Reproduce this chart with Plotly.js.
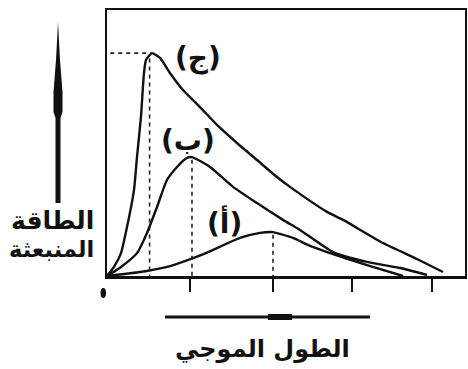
<!DOCTYPE html>
<html>
<head>
<meta charset="utf-8">
<script src="https://cdn.plot.ly/plotly-3.0.1.min.js"></script>
<style>
html,body{margin:0;padding:0;background:#fff;}
#chart{width:468px;height:369px;}
</style>
</head>
<body>
<div id="chart"></div>
<script>
// Series (x: wavelength units, y: emitted energy units)
const curveCx = [0,0.086,0.172,0.246,0.332,0.369,0.418,0.455,0.48,0.554,0.652,0.775,0.935,1.145,1.354,1.6,1.846,2.092,2.252,2.708,2.905,3.397,3.815,4.135];
const curveCy = [0,3.4,8.6,18.4,32.3,44.7,59.8,76.3,81.2,83.8,82.0,76.3,69.9,63.5,56.8,50.0,43.6,37.2,33.5,24.1,21.1,12.4,6.4,1.5];
const curveBx = [0,0.172,0.369,0.492,0.615,0.738,0.862,0.985,1.046,1.268,1.551,1.846,2.166,2.375,2.782,3.2,3.606,3.938];
const curveBy = [0,3.4,8.6,16.2,25.9,36.1,41.0,44.4,44.7,41.0,33.5,27.4,21.1,17.3,9.0,5.3,3.0,0.4];
const curveAx = [0,0.492,0.788,1.034,1.194,1.354,1.637,1.883,2.043,2.129,2.289,2.498,2.708,3.2,3.643];
const curveAy = [0,1.9,3.8,6.4,8.3,10.5,14.3,16.2,16.5,15.8,14.3,11.3,9.0,4.1,0];
const curveLabels = ['(أ)','(ب)','(ج)'];
const tickPositions = [1.02,2.04,3.02,4.0];
const yTitle = ['الطاقة','المنبعثة'];
const xTitle = 'الطول الموجي';

const W = 468, H = 369;
const M = {l:107, r:3, t:10, b:93};
const XR = [0, 4.406], YR = [0, 100];
// pixel -> paper helpers for decorative arrows
const pw = W - M.l - M.r, ph = H - M.t - M.b;
const px2paper = p => (p - M.l) / pw;
const py2paper = p => (H - M.b - p) / ph;

function peak(xs, ys){
  let i = 0;
  ys.forEach((v,k)=>{ if(v>ys[i]) i=k; });
  return {x: xs[i], y: ys[i]};
}
const pA = peak(curveAx, curveAy), pB = peak(curveBx, curveBy), pC = peak(curveCx, curveCy);

const lineStyle = {color:'#111', width:2.4, shape:'spline', smoothing:0.55};
const traces = [
  {x:curveCx, y:curveCy, mode:'lines', line:lineStyle, hoverinfo:'skip'},
  {x:curveBx, y:curveBy, mode:'lines', line:lineStyle, hoverinfo:'skip'},
  {x:curveAx, y:curveAy, mode:'lines', line:lineStyle, hoverinfo:'skip'}
];

const dash = {color:'#222', width:1.6, dash:'4px,4px'};
const shapes = [
  {type:'line', xref:'x', yref:'y', x0:0.04, x1:pC.x, y0:pC.y, y1:pC.y, line:dash},
  {type:'line', xref:'x', yref:'y', x0:pC.x-0.03, x1:pC.x-0.03, y0:pC.y-2, y1:0, line:dash},
  {type:'line', xref:'x', yref:'y', x0:pB.x, x1:pB.x, y0:pB.y-1, y1:0, line:dash},
  {type:'line', xref:'x', yref:'y', x0:pA.x, x1:pA.x, y0:pA.y-1, y1:0, line:dash},
  // vertical arrow (left)
  {type:'path', xref:'paper', yref:'paper', fillcolor:'#111', line:{width:0},
   path:'M '+px2paper(58)+' '+py2paper(22)+
        ' L '+px2paper(60)+' '+py2paper(60)+
        ' L '+px2paper(62.5)+' '+py2paper(92)+
        ' L '+px2paper(62.5)+' '+py2paper(112)+
        ' L '+px2paper(60.5)+' '+py2paper(118)+
        ' L '+px2paper(60.5)+' '+py2paper(203)+
        ' L '+px2paper(55.5)+' '+py2paper(203)+
        ' L '+px2paper(55.5)+' '+py2paper(118)+
        ' L '+px2paper(53.5)+' '+py2paper(112)+
        ' L '+px2paper(53.5)+' '+py2paper(92)+
        ' L '+px2paper(56)+' '+py2paper(60)+' Z'},
  // horizontal arrow (bottom)
  {type:'line', xref:'paper', yref:'paper', x0:px2paper(165), x1:px2paper(370), y0:py2paper(317), y1:py2paper(317), line:{color:'#111', width:3}},
  {type:'line', xref:'paper', yref:'paper', x0:px2paper(268), x1:px2paper(292), y0:py2paper(317), y1:py2paper(317), line:{color:'#111', width:6}},
  // small dot at origin
  {type:'circle', xref:'paper', yref:'paper', x0:px2paper(100.5), x1:px2paper(106), y0:py2paper(298), y1:py2paper(288), fillcolor:'#111', line:{width:0}}
];

const arFont = {family:'DejaVu Sans, Noto Sans, sans-serif', color:'#111'};
const annotations = [
  {x:1.12, y:82, xref:'x', yref:'y', text:'<b>'+curveLabels[2]+'</b>', showarrow:false, font:Object.assign({size:28}, arFont)},
  {x:0.995, y:51, xref:'x', yref:'y', text:'<b>'+curveLabels[1]+'</b>', showarrow:false, font:Object.assign({size:28}, arFont)},
  {x:1.45, y:20.3, xref:'x', yref:'y', text:'<b>'+curveLabels[0]+'</b>', showarrow:false, font:Object.assign({size:28}, arFont)},
  {x:px2paper(96), y:py2paper(220), xref:'paper', yref:'paper', xanchor:'right', yanchor:'middle', text:'<b>'+yTitle[0]+'</b>', showarrow:false, font:Object.assign({size:25}, arFont)},
  {x:px2paper(96), y:py2paper(249), xref:'paper', yref:'paper', xanchor:'right', yanchor:'middle', text:'<b>'+yTitle[1]+'</b>', showarrow:false, font:Object.assign({size:22.5}, arFont)},
  {x:px2paper(262), y:py2paper(349), xref:'paper', yref:'paper', xanchor:'center', yanchor:'middle', text:'<b>'+xTitle+'</b>', showarrow:false, font:Object.assign({size:24}, arFont)}
];

const layout = {
  width:W, height:H,
  margin:M,
  paper_bgcolor:'#fff', plot_bgcolor:'#fff',
  showlegend:false,
  xaxis:{range:XR, showgrid:false, zeroline:false, showline:true, mirror:true, linecolor:'#111', linewidth:2.5,
         ticks:'outside', ticklen:13, tickwidth:2, tickcolor:'#111', tickvals:tickPositions, showticklabels:false, fixedrange:true},
  yaxis:{range:YR, showgrid:false, zeroline:false, showline:true, mirror:true, linecolor:'#111', linewidth:2.2,
         ticks:'', showticklabels:false, fixedrange:true},
  shapes:shapes,
  annotations:annotations
};

Plotly.newPlot('chart', traces, layout, {displayModeBar:false, staticPlot:true});
</script>
</body>
</html>
